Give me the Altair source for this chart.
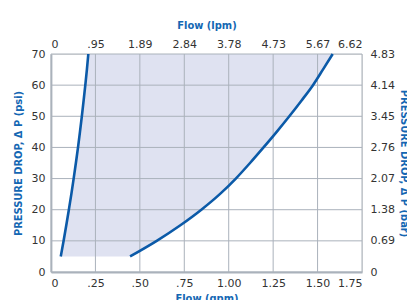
import altair as alt
import pandas as pd

psi = [5, 10, 15, 20, 25, 30, 35, 40, 45, 50, 55, 60, 65, 70]
left_gpm = [0.055, 0.071, 0.086, 0.1005, 0.1145, 0.1275, 0.140, 0.152, 0.163, 0.1735, 0.1835, 0.193, 0.202, 0.210]
right_gpm = [0.445, 0.595, 0.728, 0.846, 0.950, 1.040, 1.120, 1.196, 1.270, 1.341, 1.409, 1.474, 1.530, 1.585]

gpm_ticks = [0, 0.25, 0.5, 0.75, 1.0, 1.25, 1.5, 1.75]
gpm_labels = ["0", ".25", ".50", ".75", "1.00", "1.25", "1.50", "1.75"]
lpm_labels = ["0", ".95", "1.89", "2.84", "3.78", "4.73", "5.67", "6.62"]
psi_ticks = [0, 10, 20, 30, 40, 50, 60, 70]
bar_labels = ["0", "0.69", "1.38", "2.07", "2.76", "3.45", "4.14", "4.83"]

df = pd.DataFrame({"psi": psi, "left": left_gpm, "right": right_gpm})
xgrid = pd.DataFrame({"g": gpm_ticks})
ygrid = pd.DataFrame({"p": psi_ticks})

BLUE = "#0b5aa8"
TITLE_BLUE = "#1467b3"
GRID = "#aab2bb"
LABEL = "#333333"
FONT = "DejaVu Sans"
TFONT = "DejaVu Sans Condensed"


def arr(labels):
    return "[" + ",".join("'" + s + "'" for s in labels) + "]"


xscale = alt.Scale(domain=[0, 1.75], nice=False, zero=False)
yscale = alt.Scale(domain=[0, 70], nice=False)

common_axis = dict(
    grid=False, domainColor=GRID, domainWidth=1.8,
    ticks=False, labelFont=FONT, labelFontSize=11, labelColor=LABEL, labelOverlap=False,
    titleFont=TFONT, titleFontSize=11, titleFontWeight="bold", titleColor=TITLE_BLUE,
)

area = alt.Chart(df).mark_area(orient="horizontal", color="#dfe2f1", opacity=1,
                               interpolate="monotone").encode(
    y=alt.Y("psi:Q", scale=yscale, axis=alt.Axis(
        orient="left", values=psi_ticks, title="PRESSURE DROP, \u0394 P (psi)", labelPadding=6,
        titlePadding=8, **common_axis)),
    x=alt.X("left:Q", scale=xscale, axis=alt.Axis(
        orient="bottom", values=gpm_ticks, title="Flow (gpm)", labelPadding=5,
        labelExpr=arr(gpm_labels) + "[round(datum.value*4)]", titlePadding=4,
        **common_axis)),
    x2="right:Q")

vgrid = alt.Chart(xgrid).mark_rule(color=GRID, strokeWidth=1).encode(
    x=alt.X("g:Q", scale=xscale, axis=None))
hgrid = alt.Chart(ygrid).mark_rule(color=GRID, strokeWidth=1).encode(
    y=alt.Y("p:Q", scale=yscale, axis=None))

line_left = alt.Chart(df).mark_line(color=BLUE, strokeWidth=2.6, interpolate="monotone").encode(
    x=alt.X("left:Q", scale=xscale, axis=None),
    y=alt.Y("psi:Q", scale=yscale, axis=None),
    order="psi:Q")

line_right = alt.Chart(df).mark_line(color=BLUE, strokeWidth=2.6, interpolate="monotone").encode(
    x=alt.X("right:Q", scale=xscale, axis=alt.Axis(
        orient="top", values=gpm_ticks, title="Flow (lpm)", labelPadding=5, titlePadding=8,
        labelExpr=arr(lpm_labels) + "[round(datum.value*4)]",
        **{**common_axis, "domain": False})),
    y=alt.Y("psi:Q", scale=yscale, axis=alt.Axis(
        orient="right", values=psi_ticks, title="PRESSURE DROP, \u0394 P (bar)", labelPadding=8,
        titlePadding=4,
        labelExpr=arr(bar_labels) + "[round(datum.value/10)]",
        **{**common_axis, "domain": False})),
    order="psi:Q")

chart = alt.layer(area, vgrid, hgrid, line_left, line_right).resolve_axis(
    x="independent", y="independent").properties(
    width=311, height=218,
    autosize=alt.AutoSizeParams(type="none"),
    padding={"left": 43, "top": 46, "right": 45, "bottom": 28},
).configure_view(stroke=None).configure(background="white")

chart.save("out.html", embed_options={"renderer": "svg", "actions": False})
